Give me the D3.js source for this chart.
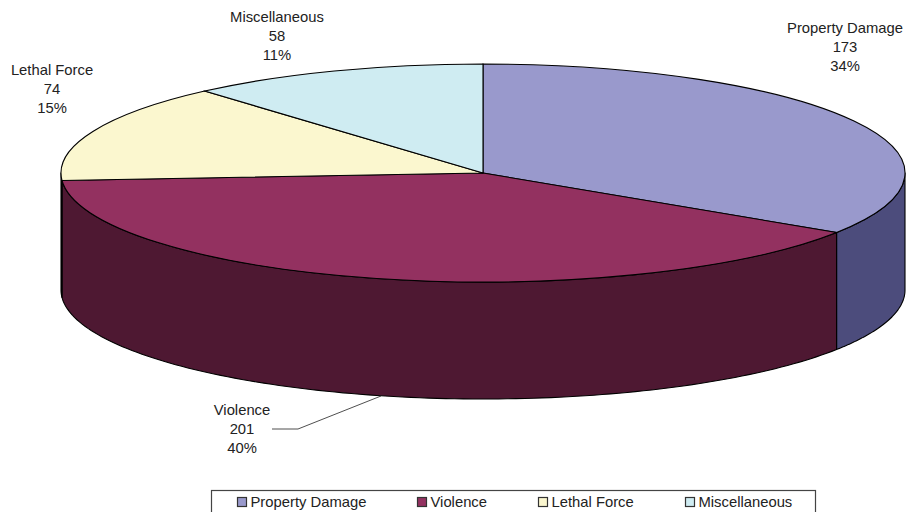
<!DOCTYPE html>
<html>
<head>
<meta charset="utf-8">
<script src="https://cdn.jsdelivr.net/npm/d3@7"></script>
<style>
  html, body { margin: 0; padding: 0; background: #fff; overflow: hidden; }
  text { font-family: "Liberation Sans", Arial, sans-serif; fill: #222; }
</style>
</head>
<body>
<div id="chart"></div>
<script>
// Data /////////////////////////////////////////////////////////////////////////
const categories = ['Property Damage', 'Violence', 'Lethal Force', 'Miscellaneous'];
const counts = [173, 201, 74, 58];
const percents = ['34%', '40%', '15%', '11%'];
const topColors = ['#9999cc', '#933160', '#fbf7cf', '#cfecf2'];
const sideColors = ['#4c4c7c', '#4e1832', '#4e1832', '#678'];

// SVG setup ////////////////////////////////////////////////////////////////////
const width = 906, height = 512;
const cx = 483, cy = 173, rx = 422, ry = 109, depth = 117;

const svg = d3.select('#chart').append('svg')
  .attr('width', width)
  .attr('height', height)
  .attr('viewBox', [0, 0, width, height])
  .style('display', 'block');

const sides = svg.append('g').attr('id', 'sides');
const tops = svg.append('g').attr('id', 'tops');
const labels = svg.append('g').attr('id', 'labels');
const legend = svg.append('g').attr('id', 'legend');

const slices = d3.pie().sort(null)(counts);

// Ellipse position for an angle measured clockwise from the top
const px = a => cx + rx * Math.sin(a);
const py = a => cy - ry * Math.cos(a);

// Side walls: only the front half of the rim is visible ////////////////////////
const rimStart = Math.PI / 2;
const rimEnd = Math.PI * 3 / 2;

sides.selectAll('path')
  .data(slices.filter(d => d.endAngle > rimStart && d.startAngle < rimEnd))
  .join('path')
  .attr('d', d => {
    const a0 = Math.max(d.startAngle, rimStart);
    const a1 = Math.min(d.endAngle, rimEnd);
    const angles = d3.range(0, 121).map(i => a0 + (a1 - a0) * i / 120);
    const upper = angles.map(a => [px(a), py(a)]);
    const lower = angles.slice().reverse().map(a => [px(a), py(a) + depth]);
    return d3.line()(upper.concat(lower)) + 'Z';
  })
  .attr('fill', d => sideColors[d.index])
  .attr('stroke', '#000')
  .attr('stroke-width', 1.1)
  .attr('stroke-linejoin', 'round');

// Top face /////////////////////////////////////////////////////////////////////
const arc = d3.arc().innerRadius(0).outerRadius(rx);

tops.selectAll('path')
  .data(slices)
  .join('path')
  .attr('d', arc)
  .attr('transform', `translate(${cx},${cy}) scale(1,${ry / rx})`)
  .attr('fill', d => topColors[d.index])
  .attr('stroke', '#000')
  .attr('stroke-width', 1.1)
  .attr('vector-effect', 'non-scaling-stroke');

// Data labels //////////////////////////////////////////////////////////////////
const labelPos = [[845, 33], [242, 415], [52, 75], [277, 22]];

const label = labels.selectAll('text')
  .data(categories)
  .join('text')
  .attr('text-anchor', 'middle')
  .attr('font-size', 14.8);

label.selectAll('tspan')
  .data((d, i) => [d, counts[i], percents[i]].map(t => ({ t, i })))
  .join('tspan')
  .attr('x', d => labelPos[d.i][0])
  .attr('y', (d, j) => labelPos[d.i][1] + j * 19)
  .text(d => d.t);

// Leader line for Violence
labels.append('path')
  .attr('d', d3.line()([[272, 429], [298, 429], [381, 396]]))
  .attr('fill', 'none')
  .attr('stroke', '#222')
  .attr('stroke-width', 0.8);

// Legend ///////////////////////////////////////////////////////////////////////
legend.append('rect')
  .attr('x', 211.5)
  .attr('y', 490.5)
  .attr('width', 604)
  .attr('height', 30)
  .attr('fill', '#fff')
  .attr('stroke', '#444')
  .attr('stroke-width', 1.2);

const legendX = [237, 417, 538, 685];

const item = legend.selectAll('g')
  .data(categories)
  .join('g')
  .attr('transform', (d, i) => `translate(${legendX[i]},0)`);

item.append('rect')
  .attr('x', 0.5)
  .attr('y', 497.5)
  .attr('width', 9)
  .attr('height', 9)
  .attr('fill', (d, i) => topColors[i])
  .attr('stroke', '#333')
  .attr('stroke-width', 1.2);

item.append('text')
  .attr('x', 13.5)
  .attr('y', 507)
  .attr('font-size', 14.8)
  .text(d => d);
</script>
</body>
</html>
